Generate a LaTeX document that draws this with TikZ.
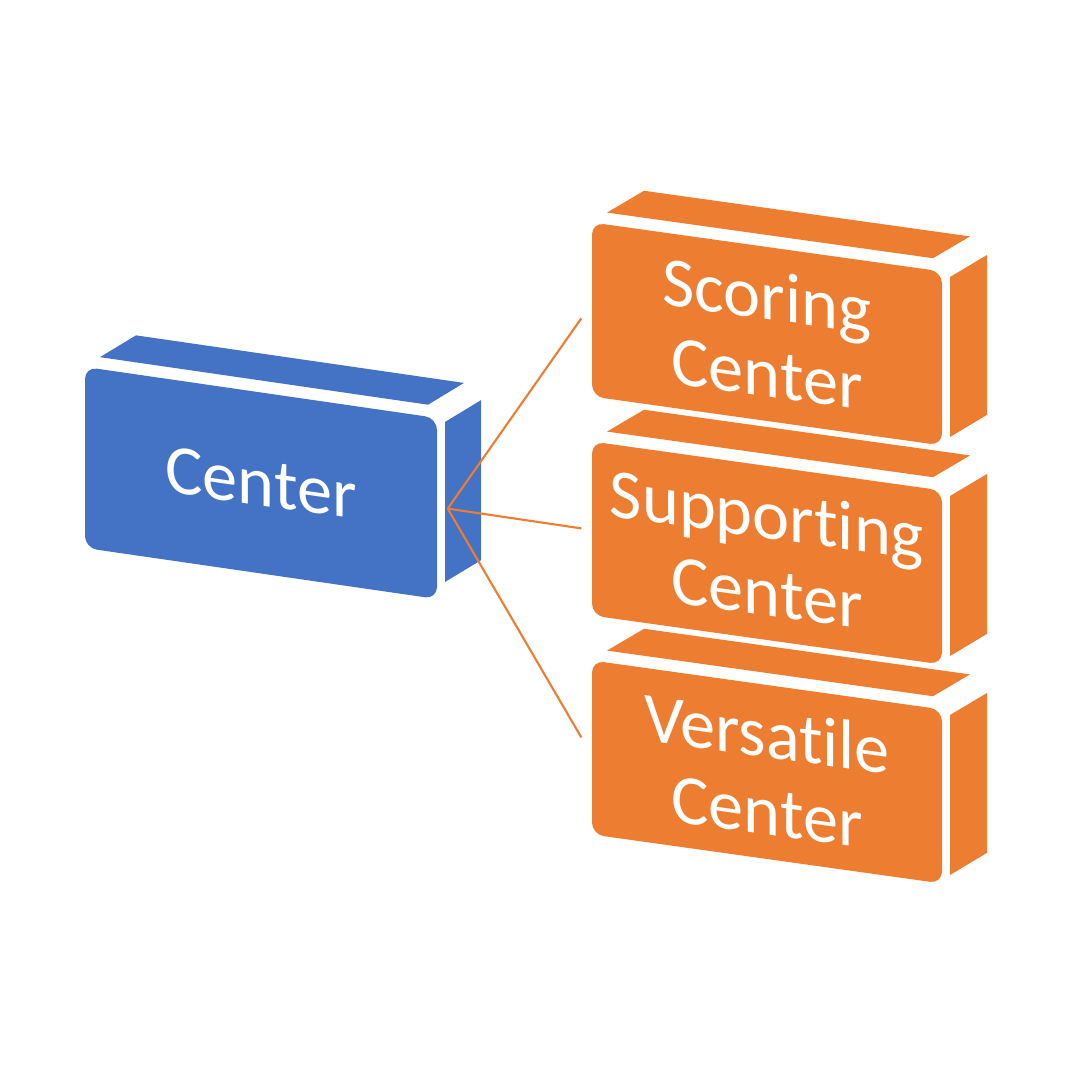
\documentclass[tikz,border=0pt]{standalone}
\usepackage{fontspec}
\setmainfont{Carlito}[Ligatures=NoCommon]
\usepackage{tikz}
\usetikzlibrary{positioning, calc}

\definecolor{cblue}{HTML}{4472C4}
\definecolor{corange}{HTML}{ED7D31}

\begin{document}
\begin{tikzpicture}[
    face/.style={rounded corners=1.2mm, inner sep=0pt, text=white, align=center,
                 font=\fontsize{20}{22}\selectfont, transform shape},
    bluebox/.style={face, fill=cblue, minimum width=3.52cm, minimum height=1.81cm},
    orangebox/.style={face, fill=corange, minimum width=3.5cm, minimum height=1.74cm},
    link/.style={draw=corange, line width=0.6pt}
]
    \useasboundingbox (0,0) rectangle (10.8,10.8);

    % Center
    \begin{scope}[shift={(2.61,5.97)}, yslant=-0.145]
        \fill[cblue] (-1.61,1.025) -- (1.67,1.025) -- (2.03,1.295) -- (-1.25,1.295) -- cycle;
        \fill[cblue] (1.84,0.877) -- (2.20,1.147) -- (2.20,-0.453) -- (1.84,-0.723) -- cycle;
        \node[bluebox] (cen) at (0,0) {Center};
    \end{scope}

    % Scoring Center
    \begin{scope}[shift={(7.67,7.46)}, yslant=-0.14]
        \fill[corange] (-1.60,0.99) -- (1.66,0.99) -- (2.03,1.26) -- (-1.23,1.26) -- cycle;
        \fill[corange] (1.83,0.826) -- (2.20,1.098) -- (2.20,-0.50) -- (1.83,-0.774) -- cycle;
        \node[orangebox] (sco) at (0,0) {Scoring\\Center};
    \end{scope}

    % Supporting Center
    \begin{scope}[shift={(7.67,5.27)}, yslant=-0.14]
        \fill[corange] (-1.60,0.99) -- (1.66,0.99) -- (2.03,1.26) -- (-1.23,1.26) -- cycle;
        \fill[corange] (1.83,0.826) -- (2.20,1.098) -- (2.20,-0.50) -- (1.83,-0.774) -- cycle;
        \node[orangebox] (sup) at (0,0) {Supporting\\Center};
    \end{scope}

    % Versatile Center
    \begin{scope}[shift={(7.67,3.08)}, yslant=-0.14]
        \fill[corange] (-1.60,0.99) -- (1.66,0.99) -- (2.03,1.26) -- (-1.23,1.26) -- cycle;
        \fill[corange] (1.83,0.826) -- (2.20,1.098) -- (2.20,-0.50) -- (1.83,-0.774) -- cycle;
        \node[orangebox] (ver) at (0,0) {Versatile\\Center};
    \end{scope}

    % links
    \draw[link] ([xshift=1mm]cen.east) -- ([shift={(-1mm,-0.9mm)}]sco.west);
    \draw[link] ([xshift=1mm]cen.east) -- ([xshift=-1mm]sup.west);
    \draw[link] ([xshift=1mm]cen.east) -- ([shift={(-1mm,1mm)}]ver.west);
\end{tikzpicture}
\end{document}
